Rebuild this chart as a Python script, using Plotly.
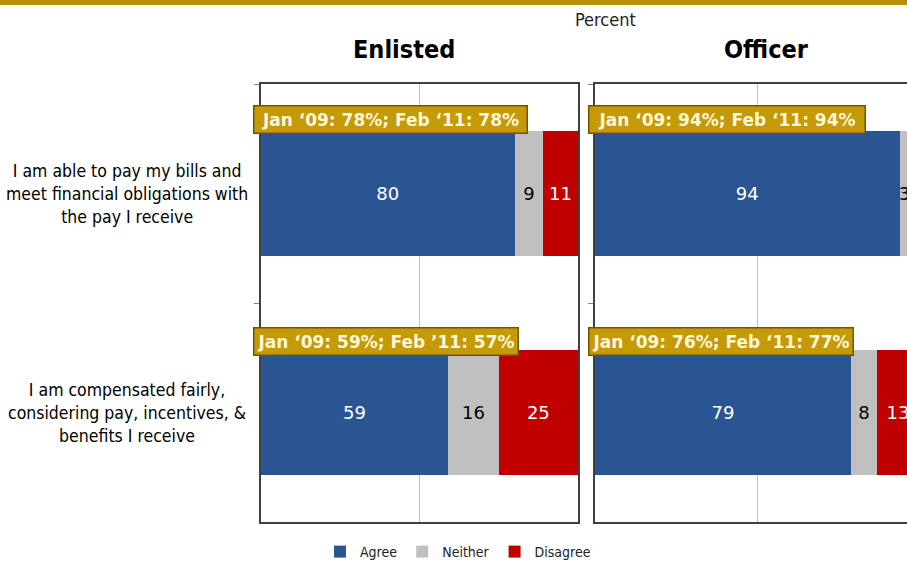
import plotly.graph_objects as go

# Survey statements (one row per statement)
statements = [
    "I am able to pay my bills and<br>meet financial obligations with<br>the pay I receive",
    "I am compensated fairly,<br>considering pay, incentives, &<br>benefits I receive",
]
groups = ["Enlisted", "Officer"]
responses = ["Agree", "Neither", "Disagree"]

# Percent of respondents, Feb '11
enlisted_agree = [80, 59]
enlisted_neither = [9, 16]
enlisted_disagree = [11, 25]
officer_agree = [94, 79]
officer_neither = [3, 8]
officer_disagree = [3, 13]

# Trend call-outs for the "Agree" share
enlisted_trend = ["Jan \u201809: 78%; Feb \u201811: 78%", "Jan \u201809: 59%; Feb \u201911: 57%"]
officer_trend = ["Jan \u201809: 94%; Feb \u201811: 94%", "Jan \u201809: 76%; Feb \u201811: 77%"]

W, H = 907, 561


def px(x):
    return x / W


def py(y):
    return 1 - y / H


colors = {"Agree": "#2B5592", "Neither": "#C0C0C0", "Disagree": "#C00000"}
text_colors = {"Agree": "white", "Neither": "black", "Disagree": "white"}
panel_values = {
    "Enlisted": {"Agree": enlisted_agree, "Neither": enlisted_neither, "Disagree": enlisted_disagree},
    "Officer": {"Agree": officer_agree, "Neither": officer_neither, "Disagree": officer_disagree},
}
axes = {"Enlisted": ("x", "y"), "Officer": ("x2", "y2")}
trends = {"Enlisted": enlisted_trend, "Officer": officer_trend}

fig = go.Figure()
for g in groups:
    xa, ya = axes[g]
    for r in responses:
        vals = panel_values[g][r]
        fig.add_trace(go.Bar(
            x=vals, y=statements, orientation="h", name=r,
            marker=dict(color=colors[r], line=dict(width=0)),
            text=[str(v) for v in vals], textposition="inside",
            insidetextanchor="middle",
            textfont=dict(color=text_colors[r], size=18, family="DejaVu Sans"),
            xaxis=xa, yaxis=ya, showlegend=(g == "Enlisted"),
            legendgroup=r, hoverinfo="skip",
        ))

y_dom = [py(522), py(84)]
x_common = dict(
    tickvals=[0, 50, 100], showticklabels=False, showgrid=True,
    gridcolor="#BDBDBD", gridwidth=1, zeroline=False, ticks="",
    showline=True, linecolor="#404040", linewidth=1.5,
)
y_common = dict(
    type="category", autorange="reversed", tickson="boundaries",
    ticks="outside", ticklen=5, tickcolor="#808080", showticklabels=False,
    showgrid=False, showline=True, linecolor="#404040", linewidth=1.5,
)

fig.update_layout(
    width=W, height=H, margin=dict(l=0, r=0, t=0, b=0, autoexpand=False),
    paper_bgcolor="white", plot_bgcolor="white",
    barmode="stack", bargap=0.43,
    uniformtext=dict(minsize=18, mode="show"),
    xaxis=dict(domain=[px(261), px(578)], range=[0, 100], anchor="y", mirror=True, **x_common),
    yaxis=dict(domain=y_dom, anchor="x", mirror=True, **y_common),
    xaxis2=dict(domain=[px(595), 1.0], range=[0, 100 * (W - 595) / 324], anchor="y2",
                mirror=True, **x_common),
    yaxis2=dict(domain=y_dom, anchor="x2", mirror=False, **y_common),
    legend=dict(orientation="h", x=px(458), xanchor="center", y=py(552), yanchor="middle",
                font=dict(size=14, family="DejaVu Sans Condensed, DejaVu Sans", color="#222"),
                itemwidth=30, tracegroupgap=0, bgcolor="rgba(0,0,0,0)"),
    showlegend=True,
)

annotations = []
# Headings
annotations.append(dict(text="Percent", x=px(605), y=py(20), xref="paper", yref="paper",
                        xanchor="center", yanchor="middle", showarrow=False,
                        font=dict(size=18, family="DejaVu Sans Condensed, DejaVu Sans", color="#222")))
annotations.append(dict(text="<b>Enlisted</b>", x=px(404), y=py(50), xref="paper", yref="paper",
                        xanchor="center", yanchor="middle", showarrow=False,
                        font=dict(size=25, family="DejaVu Sans Condensed, DejaVu Sans", color="black")))
annotations.append(dict(text="<b>Officer</b>", x=px(766), y=py(50), xref="paper", yref="paper",
                        xanchor="center", yanchor="middle", showarrow=False,
                        font=dict(size=25, family="DejaVu Sans Condensed, DejaVu Sans", color="black")))

# Statement labels
for i, s in enumerate(statements):
    yc = 193.5 + i * 219
    annotations.append(dict(text=s, x=px(127), y=py(yc), xref="paper", yref="paper",
                            xanchor="center", yanchor="middle", showarrow=False, align="center",
                            font=dict(size=17.5, family="DejaVu Sans Condensed, DejaVu Sans", color="black")))

# Gold trend call-outs
box_left = {"Enlisted": 253, "Officer": 588}
box_width = {"Enlisted": [266, 257], "Officer": [269, 257]}
for g in groups:
    for i, t in enumerate(trends[g]):
        yc = 120 + i * 221
        annotations.append(dict(text="<b>" + t + "</b>", x=px(box_left[g]), y=py(yc),
                                xref="paper", yref="paper", xanchor="left", yanchor="middle",
                                width=box_width[g][i], align="center",
                                showarrow=False, bgcolor="#C49A06", bordercolor="#6E5600",
                                borderwidth=1.5, borderpad=3,
                                font=dict(size=17, family="DejaVu Sans", color="#FFF6D8")))

fig.update_layout(annotations=annotations)

# Gold band along the top edge
fig.add_shape(type="rect", xref="paper", yref="paper", x0=0, x1=1, y0=py(5), y1=1,
              fillcolor="#B8900B", line=dict(width=0), layer="above")

fig.write_html("out.html")
